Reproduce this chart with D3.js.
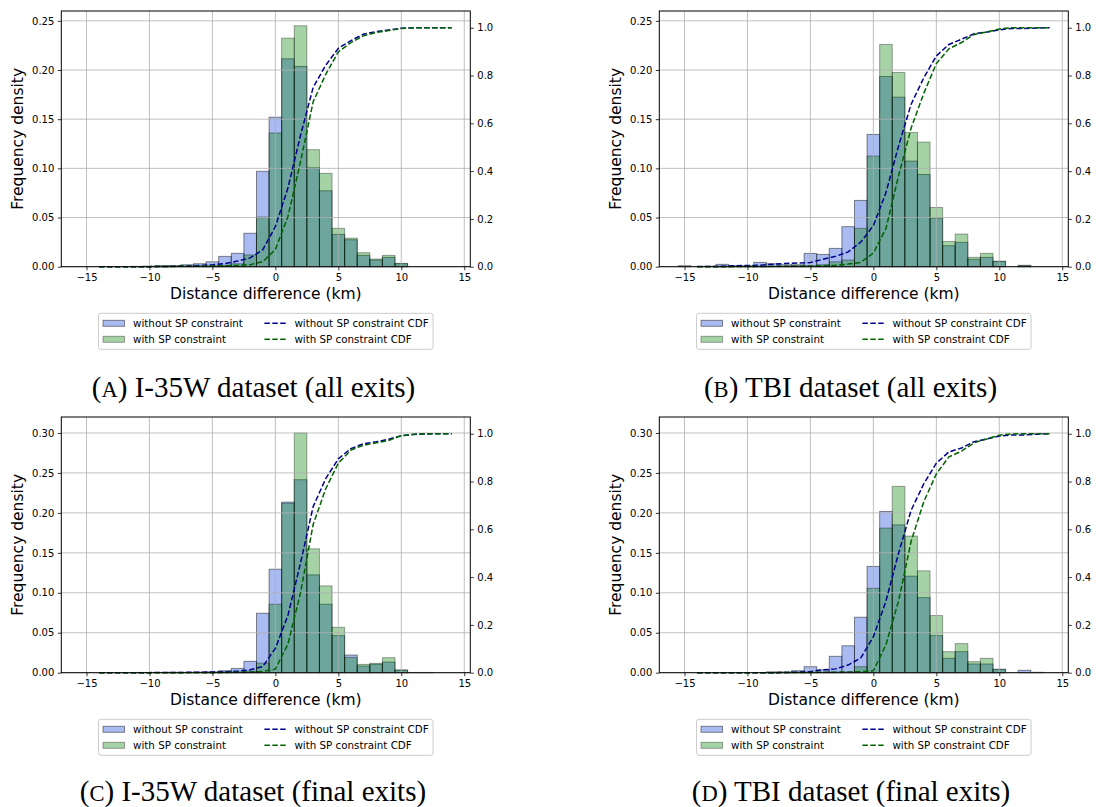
<!DOCTYPE html>
<html><head><meta charset="utf-8">
<script src="https://cdn.jsdelivr.net/npm/d3@7"></script>
<style>body{margin:0;background:#fff}svg{display:block}</style>
</head><body><svg id="c" width="1096" height="807"></svg>
<script>
// ---------- data ----------
const bins = [-15,-14,-13,-12,-11,-10,-9,-8,-7,-6,-5,-4,-3,-2,-1,0,1,2,3,4,5,6,7,8,9,10,11,12,13];
const cdfX = [-14,-13,-12,-11,-10,-9,-8,-7,-6,-5,-4,-3,-2,-1,0,1,2,3,4,5,6,7,8,9,10,11,12,13,14];
const xTicks = [-15,-10,-5,0,5,10,15];
const leftTicksTop = [0,0.05,0.10,0.15,0.20,0.25];
const leftTicksBottom = [0,0.05,0.10,0.15,0.20,0.25,0.30];
const rightTicks = [0,0.2,0.4,0.6,0.8,1.0];
const seriesNames = ["without SP constraint","with SP constraint","without SP constraint CDF","with SP constraint CDF"];

// (A) I-35W all exits
const aWithout = [0,0,0,0,0.0003,0.0005,0.001,0.001,0.002,0.003,0.005,0.0105,0.0136,0.034,0.097,0.152,0.2114,0.2036,0.1006,0.0772,0.0329,0.0274,0.0115,0.0068,0.0095,0.003,0,0,0];
const aWith    = [0,0,0,0,0,0.0003,0.0005,0.0005,0.0005,0.0008,0.001,0.0015,0.003,0.012,0.0505,0.136,0.2324,0.245,0.119,0.0949,0.039,0.029,0.0142,0.0078,0.0115,0.0034,0,0,0];
const aCdfWithout = [0,0,0,0,0.0003,0.0008,0.0018,0.0028,0.0048,0.008,0.013,0.0235,0.037,0.071,0.168,0.33,0.55,0.75,0.843,0.914,0.946,0.973,0.984,0.991,0.998,1,1,1,1];
const aCdfWith    = [0,0,0,0,0.0003,0.0008,0.0013,0.0018,0.0023,0.003,0.004,0.0055,0.0085,0.021,0.072,0.21,0.44,0.69,0.805,0.899,0.938,0.966,0.98,0.988,0.997,1,1,1,1];

// (B) TBI all exits
const bWithout = [0.001,0,0.0005,0.0024,0.001,0.001,0.0044,0.003,0.002,0.002,0.0135,0.0125,0.0186,0.0407,0.0674,0.1345,0.1934,0.1724,0.1074,0.0938,0.0495,0.0213,0.0247,0.0075,0.0095,0.0054,0,0.0014,0];
const bWith    = [0,0,0,0.0005,0.0003,0.0003,0.0005,0.0005,0.0005,0.0008,0.001,0.002,0.005,0.0068,0.039,0.1125,0.226,0.1975,0.1365,0.1267,0.0602,0.0257,0.0332,0.0095,0.0136,0.0055,0,0.001,0];
const bCdfWithout = [0.001,0.001,0.0015,0.004,0.005,0.006,0.0105,0.0135,0.0155,0.0175,0.031,0.0435,0.062,0.103,0.172,0.31,0.505,0.68,0.79,0.882,0.93,0.952,0.975,0.982,0.991,0.997,0.997,0.999,1];
const bCdfWith    = [0,0,0,0.0005,0.0008,0.001,0.0015,0.002,0.0025,0.003,0.004,0.006,0.011,0.018,0.057,0.16,0.38,0.58,0.725,0.85,0.912,0.938,0.972,0.982,0.995,1,1,1,1];

// (C) I-35W final exits
const cWithout = [0,0,0,0,0.0003,0.0003,0.0003,0.0005,0.0005,0.0008,0.001,0.0025,0.0054,0.0142,0.0744,0.1295,0.2135,0.2415,0.1224,0.0857,0.0464,0.0221,0.0084,0.0105,0.0134,0.0033,0.0003,0.0003,0];
const cWith    = [0,0,0,0,0,0,0,0.0003,0,0,0.0005,0.001,0.001,0.002,0.012,0.0857,0.212,0.30,0.155,0.1086,0.0568,0.0192,0.0104,0.0117,0.0188,0.0033,0,0,0];
const cCdfWithout = [0,0,0,0,0.0003,0.0006,0.0009,0.0014,0.002,0.0028,0.004,0.0065,0.012,0.026,0.102,0.24,0.46,0.695,0.812,0.895,0.938,0.958,0.966,0.977,0.992,0.997,0.999,1,1];
const cCdfWith    = [0,0,0,0,0,0,0,0.0003,0.0003,0.0003,0.001,0.002,0.003,0.005,0.015,0.12,0.335,0.62,0.77,0.877,0.932,0.952,0.962,0.972,0.992,0.998,1,1,1];

// (D) TBI final exits
const dWithout = [0,0,0,0,0,0,0,0.001,0.001,0.0025,0.0075,0.0035,0.0205,0.0337,0.0694,0.133,0.2018,0.185,0.1208,0.094,0.0464,0.018,0.0263,0.0109,0.0109,0.0042,0,0.003,0.0005];
const dWith    = [0,0,0,0,0,0,0,0.0005,0.0003,0.0005,0.0005,0.0005,0.0008,0.001,0.0075,0.1057,0.181,0.2332,0.171,0.1275,0.0715,0.0263,0.0364,0.0138,0.018,0.0042,0,0,0];
const dCdfWithout = [0,0,0,0,0,0,0,0.001,0.002,0.005,0.012,0.016,0.032,0.062,0.15,0.30,0.50,0.68,0.79,0.877,0.924,0.94,0.967,0.978,0.99,0.995,0.995,0.998,1];
const dCdfWith    = [0,0,0,0,0,0,0,0.0005,0.0008,0.0013,0.0018,0.0023,0.003,0.004,0.008,0.117,0.30,0.55,0.715,0.832,0.903,0.927,0.962,0.978,0.994,0.999,1,1,1];

const captions = [["A",") I-35W dataset (all exits)"],["B",") TBI dataset (all exits)"],["C",") I-35W dataset (final exits)"],["D",") TBI dataset (final exits)"]];

// ---------- layout ----------
const panels = [
  {h1:aWithout,h2:aWith,c1:aCdfWithout,c2:aCdfWith,left:61.3,top:11,yMax:0.26,yTicks:leftTicksTop,cap:captions[0],capX:253.5,capY:396.5},
  {h1:bWithout,h2:bWith,c1:bCdfWithout,c2:bCdfWith,left:659.3,top:11,yMax:0.26,yTicks:leftTicksTop,cap:captions[1],capX:850.5,capY:396.5},
  {h1:cWithout,h2:cWith,c1:cCdfWithout,c2:cCdfWith,left:61.3,top:417,yMax:0.32,yTicks:leftTicksBottom,cap:captions[2],capX:253,capY:800.5},
  {h1:dWithout,h2:dWith,c1:dCdfWithout,c2:dCdfWith,left:659.3,top:417,yMax:0.32,yTicks:leftTicksBottom,cap:captions[3],capX:851,capY:800.5}
];
const W = 409, H = 255.7;
const FONT = "DejaVu Sans, sans-serif";
const blue = "#4169e1", green = "#008000", dblue = "#00008b", dgreen = "#006400";

const svg = d3.select("#c");

panels.forEach(p => {
  const g = svg.append("g").attr("transform", `translate(${p.left},${p.top})`);
  const x = d3.scaleLinear().domain([-17.0, 15.48]).range([0, W]);
  const y = d3.scaleLinear().domain([0, p.yMax]).range([H, 0]);
  const y2 = d3.scaleLinear().domain([0, 1.07]).range([H, 0]);

  const drawBars = (vals, color, alpha) => {
    g.append("g").selectAll("rect")
      .data(bins.map((b,i)=>({b, v: vals[i]})).filter(d=>d.v>0))
      .join("rect")
      .attr("x", d => x(d.b - 0.5))
      .attr("width", d => x(d.b + 0.5) - x(d.b - 0.5))
      .attr("y", d => y(d.v))
      .attr("height", d => H - y(d.v))
      .attr("fill", color).attr("fill-opacity", alpha)
      .attr("stroke", "#000").attr("stroke-opacity", alpha).attr("stroke-width", 1);
  };
  drawBars(p.h1, blue, 0.45);
  drawBars(p.h2, green, 0.35);

  // grid
  const grid = g.append("g").attr("stroke", "#b0b0b0").attr("stroke-width", 0.8);
  grid.selectAll("line.gx").data(xTicks).join("line")
    .attr("x1", d=>x(d)).attr("x2", d=>x(d)).attr("y1", 0).attr("y2", H);
  grid.selectAll("line.gy").data(p.yTicks).join("line")
    .attr("y1", d=>y(d)).attr("y2", d=>y(d)).attr("x1", 0).attr("x2", W);

  // CDF lines
  const line = d3.line().x((d,i)=>x(cdfX[i])).y(d=>y2(d));
  [[p.c1, dblue],[p.c2, dgreen]].forEach(([vals,col]) => {
    g.append("path").datum(vals).attr("d", line)
      .attr("fill","none").attr("stroke", col).attr("stroke-width", 1.5)
      .attr("stroke-dasharray", "5.5,2.4");
  });

  // spines
  g.append("rect").attr("x",0).attr("y",0).attr("width",W).attr("height",H)
    .attr("fill","none").attr("stroke","#000").attr("stroke-width",1);

  // axes
  const styleAxis = sel => {
    sel.select(".domain").remove();
    sel.selectAll(".tick line").attr("stroke","#000").attr("stroke-width",0.8);
    sel.selectAll(".tick text").attr("fill","#000").style("font-family", FONT).style("font-size","10px");
  };
  g.append("g").attr("transform",`translate(0,${H})`)
    .call(d3.axisBottom(x).tickValues(xTicks).tickSize(3.5).tickPadding(3.5).tickFormat(d3.format("d")))
    .call(styleAxis);
  g.append("g")
    .call(d3.axisLeft(y).tickValues(p.yTicks).tickSize(3.5).tickPadding(3.5).tickFormat(d3.format(".2f")))
    .call(styleAxis);
  g.append("g").attr("transform",`translate(${W},0)`)
    .call(d3.axisRight(y2).tickValues(rightTicks).tickSize(3.5).tickPadding(3.5).tickFormat(d3.format(".1f")))
    .call(styleAxis);

  // axis labels
  g.append("text").attr("x", W/2).attr("y", H + 32.3).attr("text-anchor","middle")
    .style("font-family", FONT).style("font-size","15.5px").text("Distance difference (km)");
  g.append("text").attr("transform", `translate(-38.8,${H/2}) rotate(-90)`).attr("text-anchor","middle")
    .style("font-family", FONT).style("font-size","15.5px").text("Frequency density");

  // legend
  const fs = 10.3;
  const lg = g.append("g");
  const t1 = lg.append("text").style("font-family",FONT).style("font-size",fs+"px").text(seriesNames[0]);
  const t3 = lg.append("text").style("font-family",FONT).style("font-size",fs+"px").text(seriesNames[2]);
  const w1 = t1.node().getComputedTextLength();
  const w2 = t3.node().getComputedTextLength();
  t1.remove(); t3.remove();
  const pad = 4.5, hl = 21.5, tp = 8.5, cs = 21.5;
  const lw = pad + hl + tp + w1 + cs + hl + tp + w2 + pad;
  const lx = W/2 - lw/2, ly = H + 46.6, lh = 36;
  lg.append("rect").attr("x",lx).attr("y",ly).attr("width",lw).attr("height",lh).attr("rx",2.5)
    .attr("fill","#fff").attr("fill-opacity",0.8).attr("stroke","#cccccc").attr("stroke-width",1);
  const rows = [ly+10, ly+26];
  const col2 = lx + pad + hl + tp + w1 + cs;
  [[blue,0.45],[green,0.35]].forEach(([col,a],i)=>{
    lg.append("rect").attr("x", lx+pad).attr("y", rows[i]-3).attr("width", hl).attr("height", 6)
      .attr("fill", col).attr("fill-opacity", a).attr("stroke","#000").attr("stroke-opacity",a).attr("stroke-width",1);
    lg.append("text").attr("x", lx+pad+hl+tp).attr("y", rows[i]+3.7)
      .style("font-family",FONT).style("font-size",fs+"px").attr("fill","#000").text(seriesNames[i]);
  });
  [dblue, dgreen].forEach((col,i)=>{
    lg.append("line").attr("x1", col2).attr("x2", col2+hl).attr("y1", rows[i]).attr("y2", rows[i])
      .attr("stroke", col).attr("stroke-width",1.5).attr("stroke-dasharray","5.5,2.4");
    lg.append("text").attr("x", col2+hl+tp).attr("y", rows[i]+3.7)
      .style("font-family",FONT).style("font-size",fs+"px").attr("fill","#000").text(seriesNames[i+2]);
  });

  // caption
  const cap = svg.append("text").attr("x", p.capX).attr("y", p.capY)
    .attr("text-anchor","middle").style("font-family","Liberation Serif, Times New Roman, serif")
    .style("font-size","29px").attr("fill","#000");
  cap.append("tspan").text("(");
  cap.append("tspan").style("font-size","22.5px").text(p.cap[0]);
  cap.append("tspan").text(p.cap[1]);
});
</script></body></html>
